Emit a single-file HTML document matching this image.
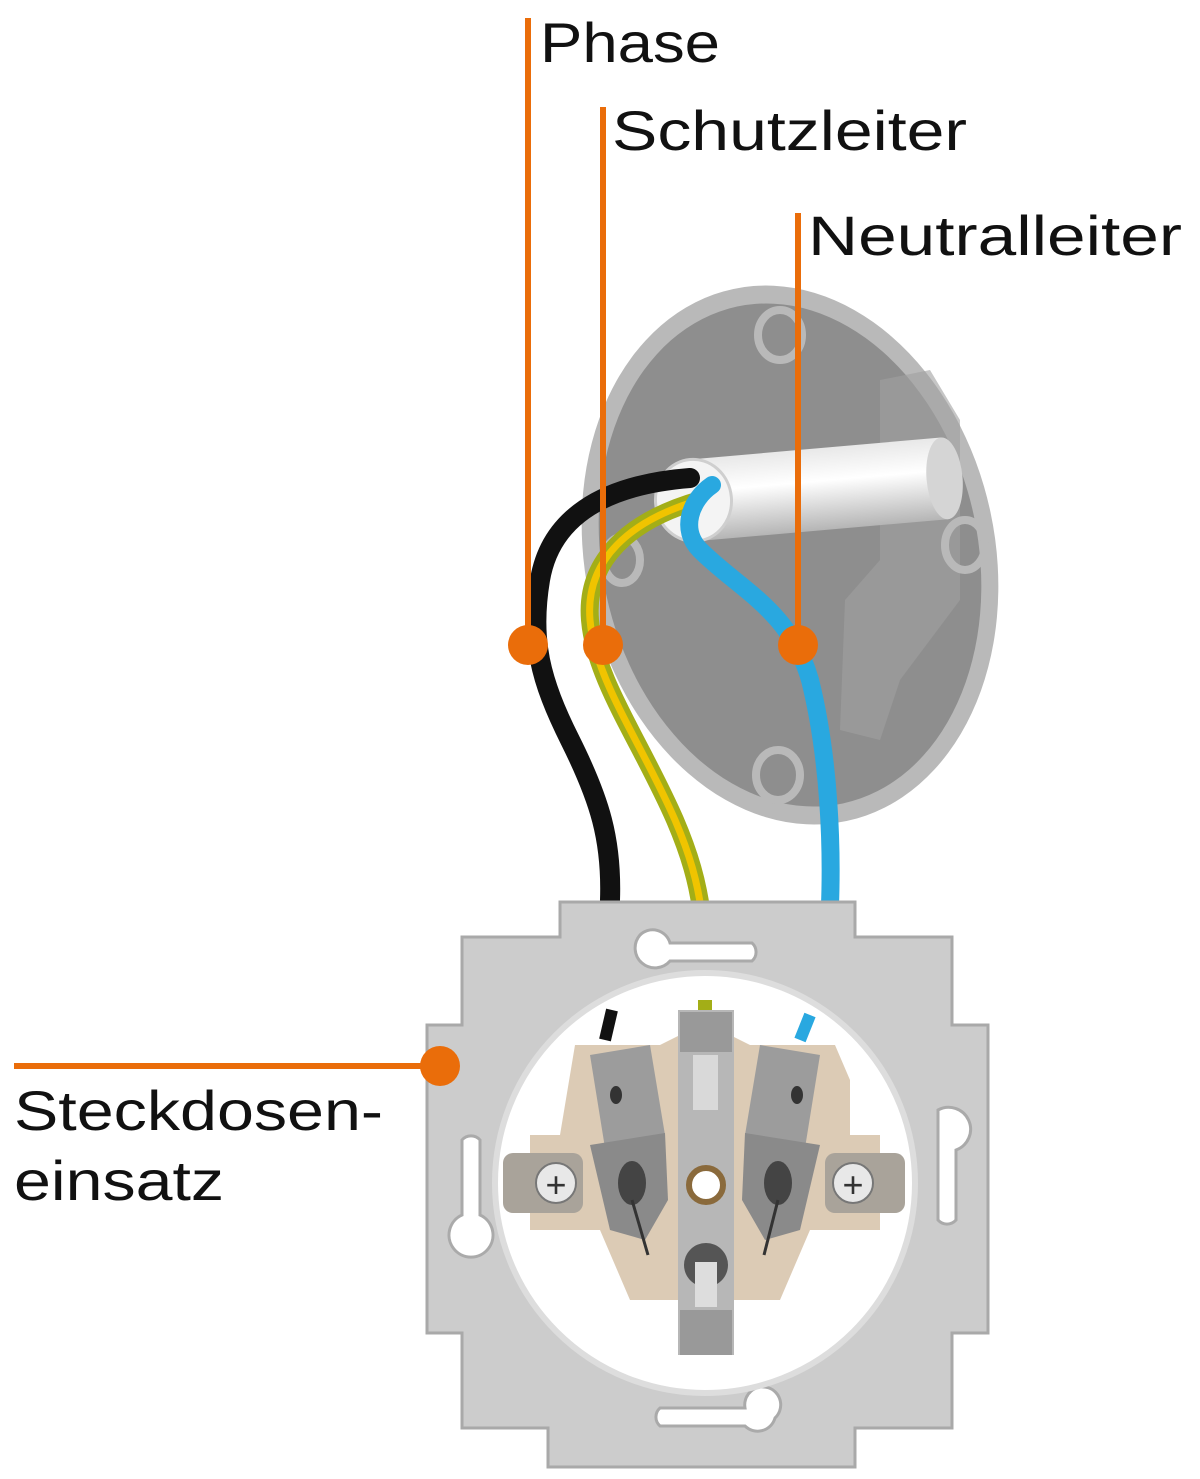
<!DOCTYPE html>
<html><head><meta charset="utf-8"><style>
html,body{margin:0;padding:0;background:#fff;}
svg{display:block;}
text{font-family:"Liberation Sans",sans-serif;fill:#111;}
</style></head><body>
<svg width="1200" height="1479" viewBox="0 0 1200 1479" xmlns="http://www.w3.org/2000/svg">
<defs>
<linearGradient id="cyl" x1="0" y1="0" x2="0" y2="1">
<stop offset="0" stop-color="#e8e8e8"/><stop offset="0.4" stop-color="#ffffff"/><stop offset="1" stop-color="#b5b5b5"/>
</linearGradient>
</defs>
<g transform="rotate(-12 790 555)">
<ellipse cx="790" cy="555" rx="205" ry="272" fill="#b9b9b9"/>
<ellipse cx="790" cy="555" rx="188" ry="254" fill="#8e8e8e"/>
</g>
<path d="M880 380 L930 370 L960 420 L960 600 L900 680 L880 740 L840 730 L845 600 L880 560 Z" fill="#a0a0a0" opacity="0.6"/>
<g fill="none" stroke="#b9b9b9" stroke-width="8">
<ellipse cx="780" cy="335" rx="22" ry="25"/>
<ellipse cx="778" cy="775" rx="22" ry="25"/>
<ellipse cx="965" cy="545" rx="20" ry="25"/>
<ellipse cx="622" cy="560" rx="18" ry="23"/>
</g>
<g transform="rotate(-5 800 490)">
<rect x="690" y="450" width="255" height="82" fill="url(#cyl)"/>
<ellipse cx="945" cy="491" rx="18" ry="41" fill="#d5d5d5"/>
<ellipse cx="693" cy="491" rx="38" ry="41" fill="#f4f4f4" stroke="#cfcfcf" stroke-width="3"/>
</g>
<path d="M690 478 C600 485 550 520 540 580 C530 640 540 680 570 740 C600 800 612 840 610 900" fill="none" stroke="#111" stroke-width="20" stroke-linecap="round"/>
<path d="M700 500 C630 520 585 560 590 620 C595 680 640 740 675 820 C705 890 705 930 705 1005" fill="none" stroke="#a3ae17" stroke-width="18"/>
<path d="M700 500 C630 520 585 560 590 620 C595 680 640 740 675 820 C705 890 705 930 705 1005" fill="none" stroke="#f0c400" stroke-width="7"/>
<path d="M712 485 C690 500 680 530 700 550 C740 590 790 610 810 680 C830 760 832 850 830 905" fill="none" stroke="#29a8e0" stroke-width="18" stroke-linecap="round"/>
<path d="M560 902 H855 V937 H952 V1025 H988 V1333 H952 V1428 H855 V1467 H548 V1428 H462 V1333 H427 V1025 H462 V937 H560 Z" fill="#cccccc" stroke="#a9a9a9" stroke-width="3"/>
<g fill="#fff" stroke="#aaa" stroke-width="3">
<path d="M640 935 a18 18 0 0 1 30 8 H752 a12 12 0 0 1 0 18 H670 a18 18 0 1 1 -30 -26Z"/>
<path d="M660 1426 a12 12 0 0 1 0 -18 H745 a18 18 0 1 1 30 10 a18 18 0 0 1 -30 8 Z"/>
<path d="M462 1140 a12 12 0 0 1 18 0 V1215 a22 22 0 1 1 -18 0 Z"/>
<path d="M938 1110 a22 22 0 1 1 18 40 V1220 a12 12 0 0 1 -18 0 Z"/>
</g>
<circle cx="705" cy="1183" r="210" fill="#fff" stroke="#ddd" stroke-width="6"/>
<path d="M612 1010 L605 1040" stroke="#111" stroke-width="12"/>
<path d="M705 1000 L705 1030" stroke="#a3ae17" stroke-width="14"/>
<path d="M810 1015 L800 1040" stroke="#29a8e0" stroke-width="12"/>
<path d="M575 1045 H660 L690 1030 H720 L750 1045 H835 L850 1080 V1135 H880 V1230 H810 L780 1300 H630 L600 1230 H530 V1135 H560 Z" fill="#dccbb5"/>
<rect x="503" y="1153" width="80" height="60" rx="10" fill="#a9a39a"/>
<rect x="825" y="1153" width="80" height="60" rx="10" fill="#a9a39a"/>
<circle cx="556" cy="1183" r="20" fill="#e8e8e8" stroke="#777" stroke-width="2"/>
<circle cx="853" cy="1183" r="20" fill="#e8e8e8" stroke="#777" stroke-width="2"/>
<text x="556" y="1197" font-size="36" text-anchor="middle" style="fill:#333">+</text>
<text x="853" y="1197" font-size="36" text-anchor="middle" style="fill:#333">+</text>
<rect x="678" y="1010" width="56" height="345" fill="#b7b7b7"/>
<rect x="680" y="1012" width="52" height="40" fill="#999"/>
<rect x="693" y="1055" width="25" height="55" fill="#d9d9d9"/>
<rect x="680" y="1310" width="52" height="45" fill="#999"/>
<circle cx="706" cy="1185" r="17" fill="#fff" stroke="#8a6a3c" stroke-width="6"/>
<circle cx="706" cy="1265" r="22" fill="#555"/>
<rect x="695" y="1262" width="22" height="45" fill="#ddd"/>
<path d="M590 1055 L650 1045 L665 1135 L605 1148 Z" fill="#9c9c9c"/>
<path d="M590 1145 L665 1133 L668 1200 L645 1240 L610 1230 Z" fill="#8a8a8a"/>
<ellipse cx="616" cy="1095" rx="6" ry="9" fill="#333"/>
<ellipse cx="632" cy="1183" rx="14" ry="22" fill="#444"/>
<path d="M632 1200 L648 1255" stroke="#333" stroke-width="3"/>
<path d="M760 1045 L820 1055 L805 1148 L745 1135 Z" fill="#9c9c9c"/>
<path d="M745 1133 L820 1145 L800 1230 L765 1240 L742 1200 Z" fill="#8a8a8a"/>
<ellipse cx="797" cy="1095" rx="6" ry="9" fill="#333"/>
<ellipse cx="778" cy="1183" rx="14" ry="22" fill="#444"/>
<path d="M778 1200 L764 1255" stroke="#333" stroke-width="3"/>
<g stroke="#ea6d0a" stroke-width="6" fill="none">
<path d="M528 18 V645"/><path d="M603 107 V645"/><path d="M798 213 V645"/><path d="M14 1066 H440"/>
</g>
<g fill="#ea6d0a">
<circle cx="528" cy="645" r="20"/><circle cx="603" cy="645" r="20"/><circle cx="798" cy="645" r="20"/><circle cx="440" cy="1066" r="20"/>
</g>
<text x="540" y="62" font-size="56" textLength="180" lengthAdjust="spacingAndGlyphs">Phase</text>
<text x="612" y="150" font-size="56" textLength="355" lengthAdjust="spacingAndGlyphs">Schutzleiter</text>
<text x="808" y="255" font-size="56" textLength="374" lengthAdjust="spacingAndGlyphs">Neutralleiter</text>
<text x="14" y="1130" font-size="56" textLength="369" lengthAdjust="spacingAndGlyphs">Steckdosen-</text>
<text x="14" y="1200" font-size="56" textLength="210" lengthAdjust="spacingAndGlyphs">einsatz</text>
</svg>
</body></html>
